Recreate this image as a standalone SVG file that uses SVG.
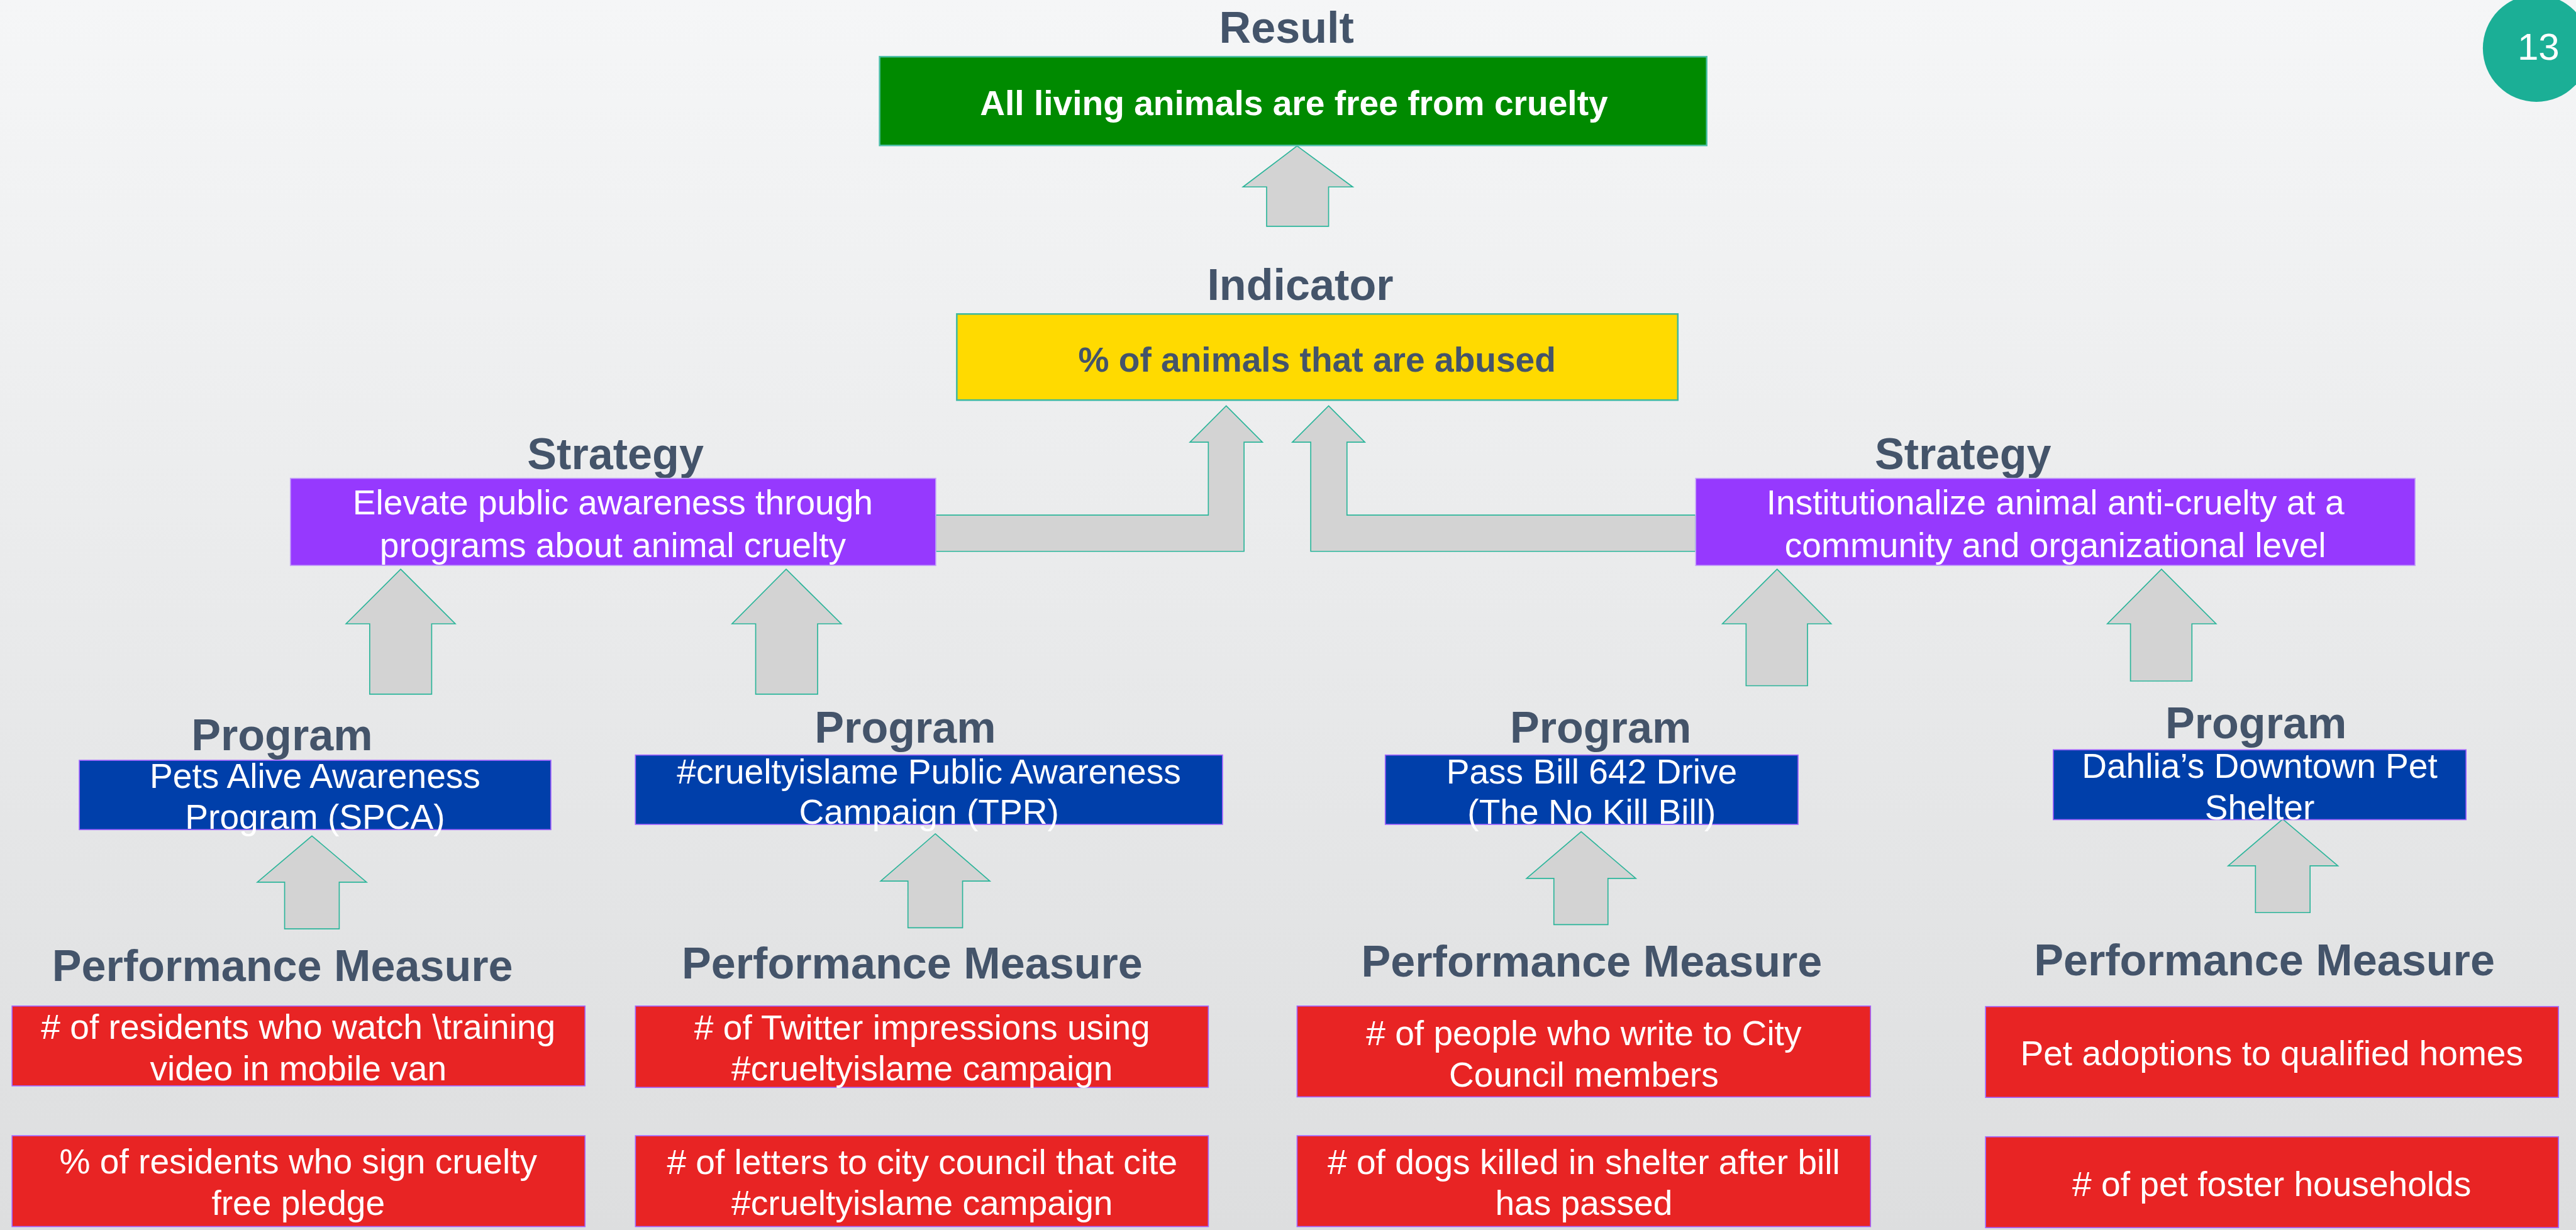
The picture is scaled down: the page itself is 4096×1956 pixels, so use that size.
<svg xmlns="http://www.w3.org/2000/svg" width="4096" height="1956" viewBox="0 0 4096 1956">
  <defs>
    <linearGradient id="bg" x1="0" y1="0" x2="0" y2="1">
      <stop offset="0" stop-color="#F5F6F7"/>
      <stop offset="1" stop-color="#DDDEDF"/>
    </linearGradient>
    <style>
      text { font-family: "Liberation Sans", Arial, Helvetica, sans-serif; text-anchor: middle; }
      .head { font-size: 84px; font-weight: bold; fill: #44546A; }
      .body { font-size: 66px; fill: #FFFFFF; }
      .bold { font-weight: bold; }
      .arrow { fill: #D3D3D3; stroke: #2BB59A; stroke-width: 2; stroke-linejoin: miter; }
      .result { fill: #008A00; stroke: #4CBFA8; stroke-width: 3; }
      .indicator { fill: #FFDA00; stroke: #3DB8A0; stroke-width: 3; }
      .strategy { fill: #9639FE; stroke: #C6A6F8; stroke-width: 2; }
      .program { fill: #003FAA; stroke: #A060FF; stroke-width: 2; }
      .measure { fill: #E82424; stroke: #A266FF; stroke-width: 2; }
    </style>
  </defs>

  <rect x="0" y="0" width="4096" height="1956" fill="url(#bg)"/>

  <g transform="scale(0.835)">
    <!-- page number badge -->
    <g id="page-number">
      <circle cx="4830" cy="92" r="102" fill="#1BAF96"/>
      <text x="4834" y="114" style="font-size:72px;fill:#FFFFFF">13</text>
    </g>

    <!-- connectors -->
    <g id="connectors">
      <polygon class="arrow" points="2470,278 2576,356 2530,356 2530,431 2412,431 2412,356 2367,356"/>
      <polygon class="arrow" points="2335,773 2404,842 2369,842 2369,1050 1782,1050 1782,981 2301,981 2301,842 2266,842"/>
      <polygon class="arrow" points="2530,773 2599,842 2565,842 2565,981 3229,981 3229,1050 2496,1050 2496,842 2461,842"/>
      <polygon class="arrow" points="763,1084 867,1188 822,1188 822,1322 704,1322 704,1188 659,1188"/>
      <polygon class="arrow" points="1497,1084 1602,1188 1557,1188 1557,1322 1439,1322 1439,1188 1394,1188"/>
      <polygon class="arrow" points="3384,1084 3487,1188 3442,1188 3442,1306 3325,1306 3325,1188 3280,1188"/>
      <polygon class="arrow" points="4116,1084 4220,1188 4174,1188 4174,1297 4057,1297 4057,1188 4013,1188"/>
      <polygon class="arrow" points="594,1592 698,1680 646,1680 646,1769 542,1769 542,1680 490,1680"/>
      <polygon class="arrow" points="1781,1588 1885,1678 1833,1678 1833,1767 1729,1767 1729,1678 1677,1678"/>
      <polygon class="arrow" points="3011,1584 3115,1673 3062,1673 3062,1761 2959,1761 2959,1673 2907,1673"/>
      <polygon class="arrow" points="4347,1560 4452,1649 4399,1649 4399,1738 4295,1738 4295,1649 4243,1649"/>
    </g>

    <!-- result -->
    <g id="result">
      <text class="head" x="2450" y="82">Result</text>
      <rect class="result" x="1675" y="108" width="1575" height="169"/>
      <text class="body bold" x="2464" y="219">All living animals are free from cruelty</text>
    </g>

    <!-- indicator -->
    <g id="indicator">
      <text class="head" x="2476" y="571">Indicator</text>
      <rect class="indicator" x="1822" y="598" width="1373" height="164"/>
      <text class="body bold" x="2508" y="708" style="fill:#44546A">% of animals that are abused</text>
    </g>

    <!-- strategies -->
    <g id="strategy-awareness">
      <text class="head" x="1172" y="894">Strategy</text>
      <rect class="strategy" x="553" y="911" width="1229" height="166"/>
      <text class="body" x="1167" y="980">Elevate public awareness through</text>
      <text class="body" x="1167" y="1061">programs about animal cruelty</text>
    </g>
    <g id="strategy-institutional">
      <text class="head" x="3738" y="894">Strategy</text>
      <rect class="strategy" x="3229" y="911" width="1370" height="166"/>
      <text class="body" x="3914" y="980">Institutionalize animal anti-cruelty at a</text>
      <text class="body" x="3914" y="1061">community and organizational level</text>
    </g>

    <!-- programs -->
    <g id="program-spca">
      <text class="head" x="537" y="1429">Program</text>
      <rect class="program" x="151" y="1448" width="898" height="132"/>
      <text class="body" x="600" y="1500">Pets Alive Awareness</text>
      <text class="body" x="600" y="1578">Program (SPCA)</text>
    </g>
    <g id="program-tpr">
      <text class="head" x="1724" y="1414">Program</text>
      <rect class="program" x="1210" y="1438" width="1118" height="132"/>
      <text class="body" x="1769" y="1492">#crueltyislame Public Awareness</text>
      <text class="body" x="1769" y="1569">Campaign (TPR)</text>
    </g>
    <g id="program-bill">
      <text class="head" x="3048" y="1414">Program</text>
      <rect class="program" x="2638" y="1438" width="786" height="132"/>
      <text class="body" x="3031" y="1492">Pass Bill 642 Drive</text>
      <text class="body" x="3031" y="1569">(The No Kill Bill)</text>
    </g>
    <g id="program-shelter">
      <text class="head" x="4296" y="1406">Program</text>
      <rect class="program" x="3910" y="1428" width="786" height="133"/>
      <text class="body" x="4303" y="1481">Dahlia’s Downtown Pet</text>
      <text class="body" x="4303" y="1560">Shelter</text>
    </g>

    <!-- performance measures -->
    <g id="measures-spca">
      <text class="head" x="538" y="1868">Performance Measure</text>
      <rect class="measure" x="23" y="1916" width="1091" height="152"/>
      <text class="body" x="568" y="1978"># of residents who watch \training</text>
      <text class="body" x="568" y="2058">video in mobile van</text>
      <rect class="measure" x="23" y="2163" width="1091" height="173"/>
      <text class="body" x="568" y="2235">% of residents who sign cruelty</text>
      <text class="body" x="568" y="2314">free pledge</text>
    </g>
    <g id="measures-tpr">
      <text class="head" x="1737" y="1864">Performance Measure</text>
      <rect class="measure" x="1210" y="1916" width="1091" height="155"/>
      <text class="body" x="1756" y="1980"># of Twitter impressions using</text>
      <text class="body" x="1756" y="2058">#crueltyislame campaign</text>
      <rect class="measure" x="1210" y="2163" width="1091" height="173"/>
      <text class="body" x="1756" y="2236"># of letters to city council that cite</text>
      <text class="body" x="1756" y="2314">#crueltyislame campaign</text>
    </g>
    <g id="measures-bill">
      <text class="head" x="3031" y="1860">Performance Measure</text>
      <rect class="measure" x="2470" y="1916" width="1092" height="173"/>
      <text class="body" x="3016" y="1990"># of people who write to City</text>
      <text class="body" x="3016" y="2069">Council members</text>
      <rect class="measure" x="2470" y="2163" width="1092" height="173"/>
      <text class="body" x="3016" y="2236"># of dogs killed in shelter after bill</text>
      <text class="body" x="3016" y="2314">has passed</text>
    </g>
    <g id="measures-shelter">
      <text class="head" x="4312" y="1857">Performance Measure</text>
      <rect class="measure" x="3781" y="1917" width="1091" height="173"/>
      <text class="body" x="4326" y="2029">Pet adoptions to qualified homes</text>
      <rect class="measure" x="3781" y="2165" width="1091" height="173"/>
      <text class="body" x="4326" y="2278"># of pet foster households</text>
    </g>
  </g>
</svg>
